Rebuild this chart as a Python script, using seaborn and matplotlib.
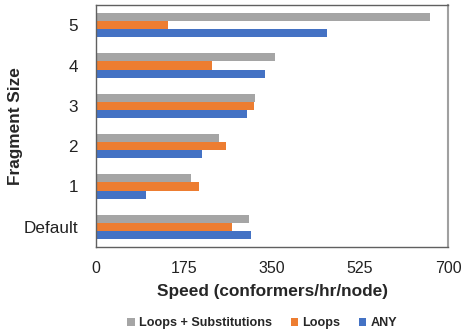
import matplotlib
matplotlib.use("Agg")
import matplotlib.pyplot as plt
import seaborn as sns
import pandas as pd
from matplotlib.patches import Patch

categories = ["5", "4", "3", "2", "1", "Default"]
series_names = ["Loops + Substitutions", "Loops", "ANY"]
loops_subs = [664, 355, 317, 244, 188, 304]
loops = [143, 230, 315, 258, 204, 271]
any_vals = [459, 336, 301, 210, 100, 308]
colors = ["#A5A5A5", "#ED7D31", "#4472C4"]
xticks = [0, 175, 350, 525, 700]

rows = []
for name, vals in zip(series_names, [loops_subs, loops, any_vals]):
    for c, v in zip(categories, vals):
        rows.append({"Fragment Size": c, "Series": name, "Speed": v})
df = pd.DataFrame(rows)

sns.set_style("white")
plt.rcParams["font.family"] = ["Liberation Sans", "DejaVu Sans"]

fig = plt.figure(figsize=(4.65, 3.31), dpi=100)
ax = fig.add_axes([96 / 465, 1 - 247 / 331, (448 - 96) / 465, (247 - 5) / 331])

sns.barplot(data=df, y="Fragment Size", x="Speed", hue="Series",
            order=categories, hue_order=series_names, palette=colors,
            orient="h", width=0.6, saturation=1, ax=ax, legend=False,
            edgecolor="none", linewidth=0)

ax.set_xlim(0, 700)
ax.set_ylim(5.5, -0.5)
ax.set_xticks(xticks)
ax.set_xticklabels([str(t) for t in xticks], fontsize=11.5, color="#222222")
ax.tick_params(axis="x", direction="out", length=4, width=1, color="#888888", pad=6)
ax.tick_params(axis="y", length=0, labelsize=12.3, labelcolor="#222222", pad=13)
ax.set_xlabel("Speed (conformers/hr/node)", fontsize=12.4, fontweight="bold", labelpad=6)
ax.set_ylabel("Fragment Size", fontsize=12.4, fontweight="bold")
ax.yaxis.set_label_coords((23 - 96) / 352, 0.5)

for side in ["left", "bottom", "top"]:
    ax.spines[side].set_color("#606060")
    ax.spines[side].set_linewidth(1)
ax.spines["right"].set_color("#A0A0A0")
ax.spines["right"].set_linewidth(1.5)

handles = [Patch(facecolor=c, edgecolor="none") for c in colors]
fig.legend(handles, series_names, loc="center", bbox_to_anchor=(262 / 465, 1 - 323 / 331),
           ncol=3, frameon=False, prop={"size": 9.1, "weight": "bold"},
           handlelength=0.6, handleheight=0.6, handletextpad=0.3, columnspacing=1.5)

fig.savefig("out.png", dpi=100)
